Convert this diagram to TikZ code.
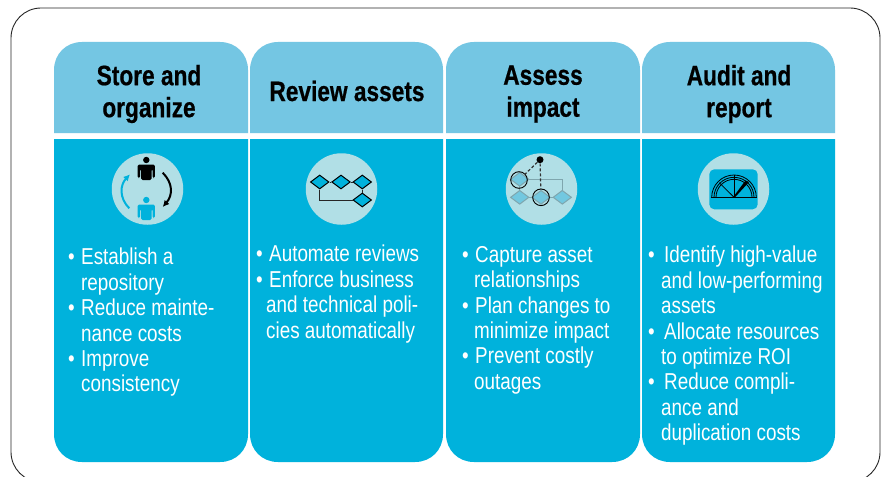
\documentclass[tikz,border=0pt]{standalone}
\usepackage{fontspec}
\setmainfont[FakeStretch=0.82,BoldFeatures={FakeStretch=0.81,FakeBold=0.6}]{Liberation Sans}
\usetikzlibrary{shapes.geometric,arrows.meta}
\definecolor{headblue}{HTML}{74C6E3}
\definecolor{bodyblue}{HTML}{00B2DC}
\definecolor{iconbg}{HTML}{B1DFE6}
\definecolor{palediamond}{HTML}{72C8E0}
\definecolor{paleline}{HTML}{7FA6AE}
\newcommand{\bl}[2][13pt]{\makebox[#1][l]{•}#2}
\newcommand{\cl}[2][13pt]{\hspace*{#1}#2}
\tikzset{
  x=1pt,y=-1pt,
  headtext/.style={align=center,font=\fontsize{28}{32}\selectfont\bfseries,text=black,inner sep=0pt},
  listtext/.style={align=left,anchor=north west,font=\fontsize{23}{25.4}\selectfont,text=white,inner sep=0pt},
  iconcircle/.style={circle,fill=iconbg,minimum size=71.5pt,inner sep=0pt},
  flowdiamond/.style={diamond,draw=black,fill=bodyblue,line width=1pt,inner sep=0pt,minimum width=18.6pt,minimum height=14pt},
  palediam/.style={diamond,draw=paleline,fill=palediamond,line width=1pt,inner sep=0pt,minimum width=18.6pt,minimum height=14pt},
  flowline/.style={draw=black!85,line width=1pt},
  paleln/.style={draw=paleline,line width=1pt},
  ring/.style={circle,draw=black,line width=.9pt,minimum size=16.6pt,inner sep=0pt},
  dashlink/.style={draw=black!80,line width=1.2pt,dash pattern=on 3pt off 2pt},
}
\newcommand{\panel}[2]{%
  \fill[headblue] (#1,133) -- (#1,70) .. controls (#1,54) and (#1+12,42) .. (#1+28,42) -- (#2-28,42) .. controls (#2-12,42) and (#2,54) .. (#2,70) -- (#2,133) -- cycle;
  \fill[bodyblue] (#1,139) -- (#2,139) -- (#2,434) .. controls (#2,450) and (#2-12,462) .. (#2-28,462) -- (#1+28,462) .. controls (#1+12,462) and (#1,450) .. (#1,434) -- cycle;
}
\newcommand{\person}[3]{% x, head y, colour
  \fill[#3] (#1,#2) circle[radius=3.2];
  \fill[#3,rounded corners=1.5pt] (#1-8.6,#2+4.5) -- (#1+8.6,#2+4.5) -- (#1+8.6,#2+18) -- (#1+6.3,#2+18) -- (#1+6.3,#2+9) -- (#1+5.3,#2+9) -- (#1+5.3,#2+20) -- (#1-5.3,#2+20) -- (#1-5.3,#2+9) -- (#1-6.3,#2+9) -- (#1-6.3,#2+18) -- (#1-8.6,#2+18) -- cycle;
}
\begin{document}
\begin{tikzpicture}
\useasboundingbox (0,0) rectangle (885,476);
\clip (0,0) rectangle (885,476);
\fill[white] (0,0) rectangle (885,476);
\draw[black!85,line width=.9pt,rounded corners=30pt] (11,8) rectangle (880,482);
\panel{54}{248}
\panel{250}{443}
\panel{446}{640}
\panel{642}{835}
% headers
\node[headtext] (h1) at (149,94) {Store and\\organize};
\node[headtext] (h2) at (347,91) {Review assets};
\node[headtext] (h3) at (543,94) {Assess\\impact};
\node[headtext] (h4) at (739,94) {Audit and\\report};
% icon backgrounds
\node[iconcircle] (c1) at (147.5,189) {};
\node[iconcircle] (c2) at (341.5,189) {};
\node[iconcircle] (c3) at (541.5,189) {};
\node[iconcircle] (c4) at (733.5,189) {};
% icon 1
\person{146.3}{160}{black}
\person{146.3}{200}{bodyblue}
\coordinate (ka) at (162.7,172.7);
\coordinate (kb) at (162.7,207);
\coordinate (ba) at (129.3,208.3);
\coordinate (bb) at (130,174.3);
\draw[black,line width=2pt,-{Latex[length=6.5pt,width=6.5pt]}] (ka) .. controls (173,183) and (173,195) .. (kb);
\draw[bodyblue,line width=2pt,-{Latex[length=6.5pt,width=6.5pt]}] (ba) .. controls (119,198) and (120,185) .. (bb);
% icon 2
\node[flowdiamond] (d1) at (319.7,182) {};
\node[flowdiamond] (d2) at (341,182) {};
\node[flowdiamond] (d3) at (362.3,182) {};
\node[flowdiamond] (d4) at (362.3,200) {};
\draw[flowline] (d1) -- (d2);
\draw[flowline] (d2) -- (d3);
\draw[flowline] (d3) -- (d4);
\draw[flowline] (d1.south) |- (d4.west);
% icon 3
\draw[paleln] (519.7,179.3) -| (562.3,197.3);
\draw[paleln] (519.7,179.3) -- (519.7,197.3);
\draw[paleln] (519.7,197.3) -- (562.3,197.3);
\node[palediam] (e1) at (519.7,179.3) {};
\node[palediam] (e2) at (519.7,197.3) {};
\node[palediam] (e3) at (541,197.3) {};
\node[palediam] (e4) at (562.3,197.3) {};
\node[ring] (r1) at (519,180) {};
\node[ring] (r2) at (541,197.3) {};
\node[circle,fill=black,inner sep=0pt,minimum size=7pt] (dot) at (540,159.7) {};
\draw[dashlink] (dot) -- (r1);
\draw[dashlink] (dot) -- (r2);
% icon 4
\fill[bodyblue,rounded corners=5pt] (709.3,169.3) rectangle (757.7,209.3);
\coordinate (g) at (734,197.3);
\draw[black,line width=.8pt] (711.7,197.3) arc[start angle=180,end angle=360,radius=22.3];
\draw[black,line width=.8pt] (714,197.3) arc[start angle=180,end angle=360,radius=20];
\draw[black,line width=.8pt] (716,197.3) arc[start angle=180,end angle=360,radius=18];
\draw[black,line width=1pt] (711.3,197.3) -- (756.7,197.3);
\draw[black,line width=.8pt] (g) -- (734,175);
\draw[black,line width=.8pt] (g) -- (719.3,182.7);
\fill[black] (733,197.3) -- (735,197.3) -- (749,182) -- (745.5,180.5) -- cycle;
% lists
\node[listtext] (l1) at (68,248) {\bl{Establish a}\\\cl{repository}\\\bl{Reduce mainte-}\\\cl{nance costs}\\\bl{Improve}\\\cl{consistency}};
\node[listtext] (l2) at (256,245) {\bl{Automate reviews}\\\bl{Enforce business}\\\cl[10pt]{and technical poli-}\\\cl[10pt]{cies automatically}};
\node[listtext] (l3) at (462,246) {\bl{Capture asset}\\\cl[12pt]{relationships}\\\bl{Plan changes to}\\\cl[12pt]{minimize impact}\\\bl{Prevent costly}\\\cl[12pt]{outages}};
\node[listtext] (l4) at (648,246) {\bl[16pt]{Identify high-value}\\\cl{and low-performing}\\\cl{assets}\\\bl[16pt]{Allocate resources}\\\cl{to optimize ROI}\\\bl[16pt]{Reduce compli-}\\\cl{ance and}\\\cl{duplication costs}};
\end{tikzpicture}
\end{document}
